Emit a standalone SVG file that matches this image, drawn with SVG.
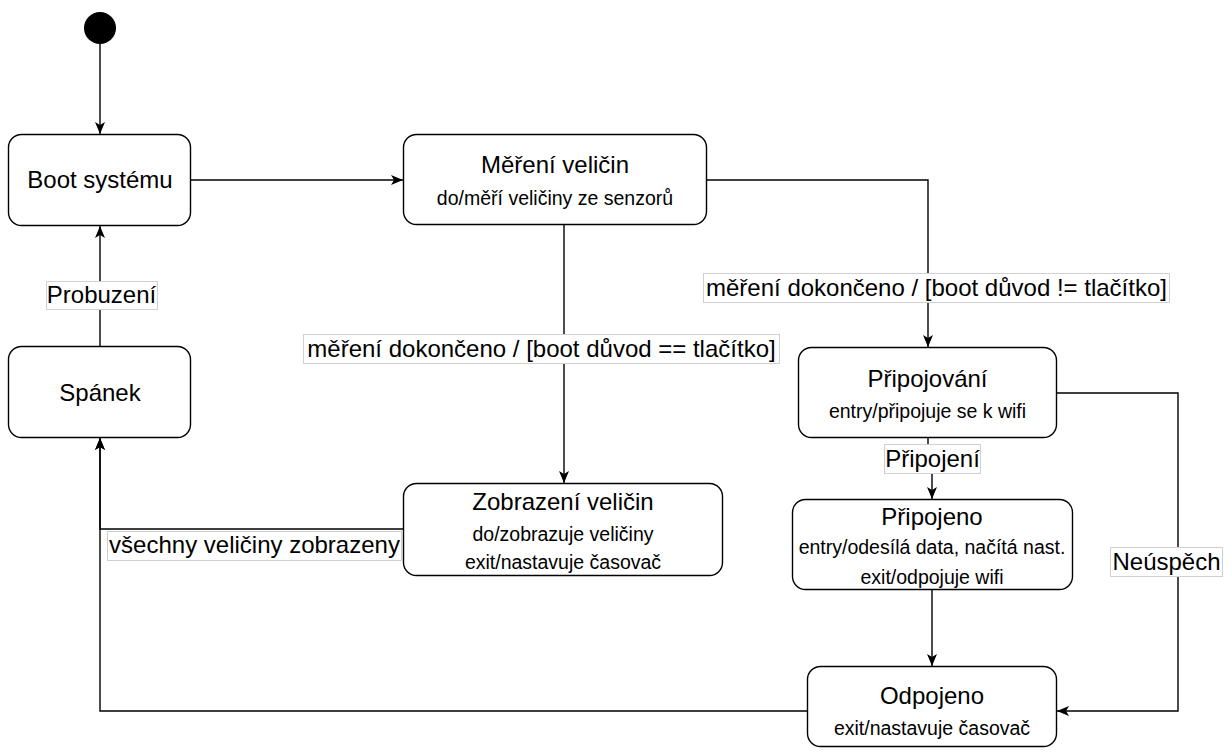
<svg xmlns="http://www.w3.org/2000/svg" width="1232" height="754" viewBox="0 0 1232 754">
<defs>
<marker id="arr" viewBox="0 0 12 10" refX="12" refY="5" markerWidth="12" markerHeight="10" markerUnits="userSpaceOnUse" orient="auto">
<path d="M0,0 L12,5 L0,10 L3,5 Z" fill="#000"/>
</marker>
<style>
.node{fill:#fff;stroke:#000;stroke-width:1.4}
.edge{fill:none;stroke:#000;stroke-width:1.4;marker-end:url(#arr)}
.t{font-family:"Liberation Sans",Arial,Helvetica,sans-serif;fill:#000;text-anchor:middle}
.big{font-size:24px}
.small{font-size:19.5px}
.lblbox{fill:#fff;stroke:#d0d0d0;stroke-width:1}
</style>
</defs>
<rect width="1232" height="754" fill="#fff"/>
<g id="start">
<circle cx="100" cy="28" r="16" fill="#000"/>
</g>
<g id="connectors">
<path class="edge" d="M100,44 V134"/>
<path class="edge" d="M191,180 H403"/>
<path class="edge" d="M100,346 V226"/>
<path class="edge" d="M564,225 V483"/>
<path class="edge" d="M403,529 H100 V438"/>
<path class="edge" d="M707,180 H928 V347"/>
<path class="edge" d="M928,438 V465 H932 V499"/>
<path class="edge" d="M932,590 V666"/>
<path class="edge" d="M1057,393 H1178 V711 H1057"/>
<path class="edge" d="M807,711 H100 V438"/>
</g>
<g id="labels">
<rect class="lblbox" x="46.5" y="281.5" width="111" height="28"/>
<text class="t big" x="101.5" y="303">Probuzení</text>
<rect class="lblbox" x="303.5" y="334.5" width="476" height="29"/>
<text class="t big" x="541.5" y="357">měření dokončeno / [boot důvod == tlačítko]</text>
<rect class="lblbox" x="703.5" y="273.5" width="466" height="29"/>
<text class="t big" x="936.5" y="296">měření dokončeno / [boot důvod != tlačítko]</text>
<rect class="lblbox" x="884.5" y="444.5" width="96" height="29"/>
<text class="t big" x="932.5" y="467">Připojení</text>
<rect class="lblbox" x="107.5" y="531.5" width="294" height="29"/>
<text class="t big" x="254.5" y="553">všechny veličiny zobrazeny</text>
<rect class="lblbox" x="1110.5" y="547.5" width="112" height="29"/>
<text class="t big" x="1166.5" y="570">Neúspěch</text>
</g>
<g id="boot">
<rect class="node" x="8.5" y="134.5" width="182" height="91" rx="13"/>
<text class="t big" x="100" y="188">Boot systému</text>
</g>
<g id="spanek">
<rect class="node" x="8.5" y="346.5" width="182" height="91" rx="13"/>
<text class="t big" x="100" y="401">Spánek</text>
</g>
<g id="mereni">
<rect class="node" x="403.5" y="134.5" width="303" height="90" rx="13"/>
<text class="t big" x="555" y="173">Měření veličin</text>
<text class="t small" x="555" y="205">do/měří veličiny ze senzorů</text>
</g>
<g id="zobrazeni">
<rect class="node" x="403.5" y="483.5" width="319" height="92" rx="13"/>
<text class="t big" x="563" y="510">Zobrazení veličin</text>
<text class="t small" x="563" y="541">do/zobrazuje veličiny</text>
<text class="t small" x="563" y="569">exit/nastavuje časovač</text>
</g>
<g id="pripojovani">
<rect class="node" x="798.5" y="347.5" width="258" height="90" rx="13"/>
<text class="t big" x="927.5" y="387">Připojování</text>
<text class="t small" x="927.5" y="418">entry/připojuje se k wifi</text>
</g>
<g id="pripojeno">
<rect class="node" x="792.5" y="499.5" width="280" height="90" rx="13"/>
<text class="t big" x="932" y="525">Připojeno</text>
<text class="t small" x="932" y="554">entry/odesílá data, načítá nast.</text>
<text class="t small" x="932" y="584">exit/odpojuje wifi</text>
</g>
<g id="odpojeno">
<rect class="node" x="807.5" y="666.5" width="249" height="80" rx="13"/>
<text class="t big" x="932" y="704">Odpojeno</text>
<text class="t small" x="932" y="735">exit/nastavuje časovač</text>
</g>
</svg>
